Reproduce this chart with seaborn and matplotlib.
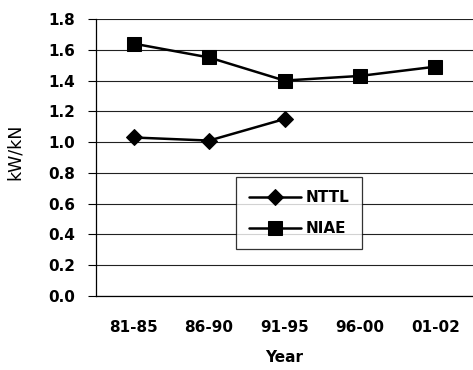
import matplotlib
matplotlib.use("Agg")
import matplotlib.pyplot as plt
import seaborn as sns
import pandas as pd
import numpy as np

years = ["81-85", "86-90", "91-95", "96-00", "01-02"]
nttl = [1.03, 1.01, 1.15, np.nan, np.nan]
niae = [1.64, 1.55, 1.40, 1.43, 1.49]
series_names = ["NTTL", "NIAE"]

sns.set_theme(style="white")
plt.rcParams["font.family"] = ["DejaVu Sans"]
plt.rcParams["font.weight"] = "bold"
plt.rcParams["text.color"] = "black"
plt.rcParams["axes.labelcolor"] = "black"
plt.rcParams["xtick.color"] = "black"
plt.rcParams["ytick.color"] = "black"

df = pd.DataFrame({"Year": years * 2,
                   "value": nttl + niae,
                   "series": [series_names[0]] * 5 + [series_names[1]] * 5})

fig = plt.figure(figsize=(4.73, 3.70), dpi=100)
ax = fig.add_axes([96 / 473, 74 / 370, 1 - 96 / 473, 277 / 370])

sns.lineplot(data=df.dropna(), x="Year", y="value", style="series", markers={"NTTL": "D", "NIAE": "s"},
             dashes=False, color="black", linewidth=1.8, markersize=9.5, ax=ax, sort=False,
             markeredgecolor="black")
for line in ax.lines:
    if line.get_marker() == "D":
        line.set_markersize(8)

ax.set_xlim(-0.5, 4.5)
ax.set_ylim(0, 1.8)
ax.set_yticks(np.arange(0, 1.81, 0.2))
ax.set_yticklabels([f"{v:.1f}" for v in np.arange(0, 1.81, 0.2)], fontsize=11, fontweight="bold")
ax.set_xticks(range(len(years)))
ax.set_xticklabels(years, fontsize=11, fontweight="bold")
ax.tick_params(axis="x", which="major", length=0, pad=17)
ax.set_xticks([0.5, 1.5, 2.5, 3.5], minor=True)
ax.tick_params(axis="x", which="minor", length=10, direction="inout", color="black", width=0.8)
ax.tick_params(axis="y", which="major", length=6, direction="out", color="black", width=0.8, left=True, pad=9)
ax.grid(axis="y", color="#222222", linewidth=0.8)
ax.grid(axis="x", visible=False)
for s in ["top", "right"]:
    ax.spines[s].set_visible(False)
for s in ["left", "bottom"]:
    ax.spines[s].set_color("black")
    ax.spines[s].set_linewidth(0.9)

ax.set_xlabel("Year", fontsize=11, fontweight="bold", labelpad=11)
ax.set_ylabel("kW/kN", fontsize=12.5, fontweight="normal")
ax.yaxis.set_label_coords(-0.19, 0.52)

leg = ax.legend(loc="lower left", bbox_to_anchor=(0.371, 0.17), frameon=True, fancybox=False,
                edgecolor="black", fontsize=11, handlelength=3.4, borderpad=0.85,
                labelspacing=1.05, handletextpad=0.3, borderaxespad=0)
leg.get_frame().set_linewidth(0.9)
for t in leg.get_texts():
    t.set_fontweight("bold")

fig.savefig("out.png", dpi=100)
